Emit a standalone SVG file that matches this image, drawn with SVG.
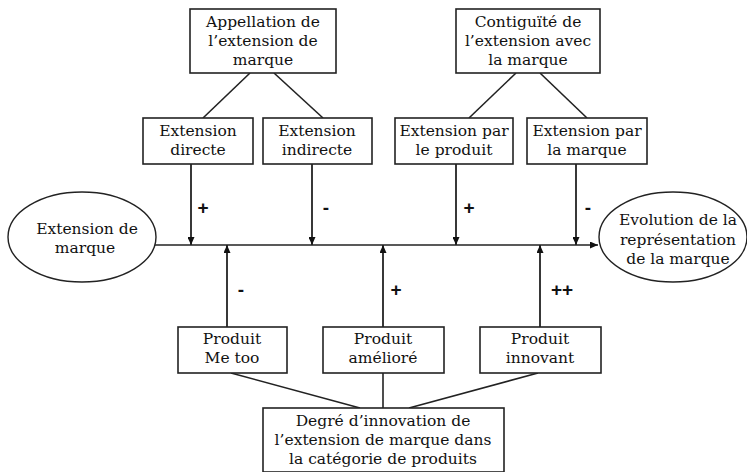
<svg xmlns="http://www.w3.org/2000/svg" width="747" height="472" viewBox="0 0 747 472">
<defs>
<marker id="ah" viewBox="0 0 10 10" refX="10" refY="5" markerWidth="8" markerHeight="7" markerUnits="userSpaceOnUse" orient="auto" preserveAspectRatio="none">
<path d="M0,0 L10,5 L0,10 z" fill="#111"/>
</marker>
<style>
.box{fill:#fff;stroke:#222;stroke-width:1.6}
.ell{fill:#fff;stroke:#222;stroke-width:1.4}
.t{font-family:'DejaVu Serif',serif;font-size:15.5px;fill:#111;text-anchor:middle}
.s{font-family:'Liberation Sans',Arial,sans-serif;font-size:19px;font-weight:bold;fill:#111;text-anchor:middle}
.ln{stroke:#222;stroke-width:1.6;fill:none}
.ar{stroke:#222;stroke-width:1.8;fill:none;marker-end:url(#ah)}
</style>
</defs>
<rect width="747" height="472" fill="#fff"/>
<g id="connectors">
<line class="ln" x1="250" y1="73" x2="203" y2="118"/>
<line class="ln" x1="274" y1="73" x2="323" y2="118"/>
<line class="ln" x1="516" y1="73" x2="469" y2="118"/>
<line class="ln" x1="540" y1="73" x2="587" y2="118"/>
<line class="ar" x1="191" y1="164" x2="191" y2="245"/>
<line class="ar" x1="312" y1="164" x2="312" y2="245"/>
<line class="ar" x1="456" y1="164" x2="456" y2="245"/>
<line class="ar" x1="576" y1="164" x2="576" y2="245"/>
<line class="ar" x1="227" y1="327" x2="227" y2="245"/>
<line class="ar" x1="383" y1="327" x2="383" y2="245"/>
<line class="ar" x1="540" y1="327" x2="540" y2="245"/>
<line class="ar" x1="155" y1="245" x2="598" y2="245" style="stroke-width:1.5"/>
<line class="ln" x1="231" y1="373" x2="360" y2="408"/>
<line class="ln" x1="383" y1="373" x2="383" y2="408"/>
<line class="ln" x1="538" y1="373" x2="409" y2="408"/>
<text class="s" x="203" y="214">+</text>
<text class="s" x="326" y="214">-</text>
<text class="s" x="469" y="214">+</text>
<text class="s" x="588" y="214">-</text>
<text class="s" x="241" y="296">-</text>
<text class="s" x="396" y="296">+</text>
<text class="s" x="562" y="296">++</text>
</g>
<g id="appellation">
<rect class="box" x="190" y="9" width="146" height="64"/>
<text class="t" x="263" y="27">Appellation de</text>
<text class="t" x="263" y="46">l’extension de</text>
<text class="t" x="263" y="65">marque</text>
</g>
<g id="contiguite">
<rect class="box" x="456" y="9" width="144" height="64"/>
<text class="t" x="528" y="27">Contiguïté de</text>
<text class="t" x="528" y="46">l’extension avec</text>
<text class="t" x="528" y="65">la marque</text>
</g>
<g id="ext-directe">
<rect class="box" x="143" y="118" width="110" height="46"/>
<text class="t" x="198" y="136">Extension</text>
<text class="t" x="198" y="155">directe</text>
</g>
<g id="ext-indirecte">
<rect class="box" x="263" y="118" width="109" height="46"/>
<text class="t" x="317" y="136">Extension</text>
<text class="t" x="317" y="155">indirecte</text>
</g>
<g id="ext-produit">
<rect class="box" x="395" y="118" width="118" height="46"/>
<text class="t" x="454" y="136">Extension par</text>
<text class="t" x="454" y="155">le produit</text>
</g>
<g id="ext-marque">
<rect class="box" x="527" y="118" width="120" height="46"/>
<text class="t" x="587" y="136">Extension par</text>
<text class="t" x="587" y="155">la marque</text>
</g>
<g id="extension-marque">
<ellipse class="ell" cx="82" cy="237" rx="74" ry="45"/>
<text class="t" x="87" y="234">Extension de</text>
<text class="t" x="85" y="253">marque</text>
</g>
<g id="evolution">
<ellipse class="ell" cx="673" cy="237" rx="74" ry="45"/>
<text class="t" x="678" y="225">Evolution de la</text>
<text class="t" x="678" y="245">représentation</text>
<text class="t" x="678" y="264">de la marque</text>
</g>
<g id="me-too">
<rect class="box" x="178" y="327" width="109" height="46"/>
<text class="t" x="232" y="344">Produit</text>
<text class="t" x="232" y="363">Me too</text>
</g>
<g id="ameliore">
<rect class="box" x="323" y="327" width="121" height="46"/>
<text class="t" x="383" y="344">Produit</text>
<text class="t" x="383" y="363">amélioré</text>
</g>
<g id="innovant">
<rect class="box" x="480" y="327" width="121" height="46"/>
<text class="t" x="540" y="344">Produit</text>
<text class="t" x="540" y="363">innovant</text>
</g>
<g id="degre">
<rect class="box" x="263" y="408" width="241" height="64"/>
<text class="t" x="383" y="426">Degré d’innovation de</text>
<text class="t" x="383" y="445">l’extension de marque dans</text>
<text class="t" x="383" y="464">la catégorie de produits</text>
</g>
</svg>
